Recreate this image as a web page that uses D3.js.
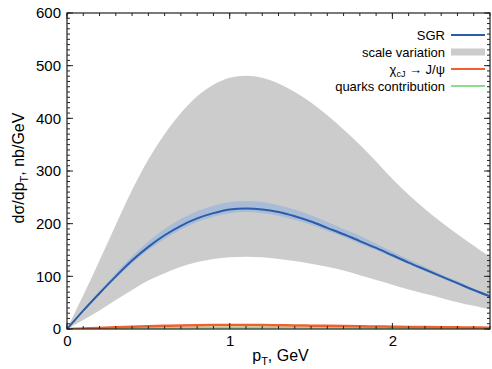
<!DOCTYPE html>
<html>
<head>
<meta charset="utf-8">
<script src="https://cdn.jsdelivr.net/npm/d3@7"></script>
<style>
  body { margin: 0; background: #fff; }
  text { font-family: "Liberation Sans", Arial, sans-serif; fill: #000; }
</style>
</head>
<body>
<div id="chart"></div>
<script>
// pT grid, GeV
const pT = [0, 0.1, 0.2, 0.3, 0.4, 0.5, 0.6, 0.7, 0.8, 0.9, 1.0, 1.1, 1.2, 1.3,
  1.4, 1.5, 1.6, 1.7, 1.8, 1.9, 2.0, 2.1, 2.2, 2.3, 2.4, 2.5, 2.6];

// SGR central curve and its narrow band
const sgr = [0, 35, 68, 100, 130, 156, 178, 196, 210, 220, 227, 229, 227, 222,
  214, 204, 192, 180, 167, 154, 140, 126, 113, 100, 87, 74, 62];
const sgrHi = [0, 37, 72, 106, 138, 166, 190, 209, 224, 234, 241, 243, 241, 235,
  227, 216, 203, 190, 177, 162, 147, 132, 118, 104, 91, 77, 64];
const sgrLo = [0, 34, 66, 96, 125, 150, 171, 189, 203, 213, 220, 222, 220, 215,
  207, 198, 186, 175, 162, 150, 136, 123, 110, 97, 84, 72, 60];

// scale variation band
const scaleHi = [0, 64, 130, 198, 264, 322, 370, 410, 442, 464, 477, 481, 477, 466,
  450, 430, 406, 379, 350, 318, 285, 255, 228, 203, 180, 158, 137];
const scaleLo = [0, 17, 35, 55, 74, 92, 106, 118, 127, 133, 136, 137, 136, 133,
  129, 124, 118, 111, 102, 93, 84, 75, 67, 59, 51, 44, 37];

// chi_cJ -> J/psi feed-down and quark contribution
const chi = [0, 1, 2, 3.2, 4.3, 5.2, 6, 6.6, 7.1, 7.4, 7.5, 7.5, 7.4, 7.1,
  6.8, 6.4, 6, 5.6, 5.2, 4.8, 4.4, 4, 3.7, 3.4, 3.1, 2.8, 2.6];
const quarks = [0, 0.5, 1, 1.5, 2, 2.4, 2.7, 3, 3.2, 3.3, 3.4, 3.4, 3.3, 3.2,
  3.1, 2.9, 2.7, 2.5, 2.3, 2.1, 1.9, 1.8, 1.6, 1.5, 1.3, 1.2, 1.1];

const xTicks = [0, 1, 2];
const yTicks = [0, 100, 200, 300, 400, 500, 600];

const legendItems = [
  { label: 'SGR', kind: 'line', color: '#2b5ca8' },
  { label: 'scale variation', kind: 'band', color: '#cccccc' },
  { label: 'chi', kind: 'line', color: '#f0602a' },
  { label: 'quarks contribution', kind: 'line', color: '#8ddc8d' }
];

const W = 492, H = 369;
const margin = { top: 13, right: 2, bottom: 40, left: 67 };
const width = W - margin.left - margin.right;
const height = H - margin.top - margin.bottom;

const svg = d3.select('#chart').append('svg')
  .attr('width', W).attr('height', H);

const g = svg.append('g')
  .attr('transform', `translate(${margin.left},${margin.top})`);

const x = d3.scaleLinear().domain([0, 2.6]).range([0, width]);
const y = d3.scaleLinear().domain([0, 600]).range([height, 0]);

g.append('clipPath').attr('id', 'clip')
  .append('rect').attr('width', width).attr('height', height);

const plot = g.append('g').attr('clip-path', 'url(#clip)');

const curve = d3.curveCatmullRom.alpha(0.5);

const band = (lo, hi) => d3.area()
  .x((d, i) => x(pT[i]))
  .y0((d, i) => y(lo[i]))
  .y1((d, i) => y(hi[i]))
  .curve(curve)(pT);

const line = vals => d3.line()
  .x((d, i) => x(pT[i]))
  .y((d, i) => y(vals[i]))
  .curve(curve)(pT);

const zeros = pT.map(() => 0);

// bands
plot.append('path').attr('d', band(scaleLo, scaleHi)).attr('fill', '#cccccc');
plot.append('path').attr('d', band(sgrLo, sgrHi)).attr('fill', '#a9bcd7');
plot.append('path').attr('d', band(zeros, quarks)).attr('fill', '#bfe8bf');

// lines
plot.append('path').attr('d', line(quarks)).attr('fill', 'none')
  .attr('stroke', '#8ddc8d').attr('stroke-width', 1.5);
plot.append('path').attr('d', line(chi)).attr('fill', 'none')
  .attr('stroke', '#f0602a').attr('stroke-width', 2.5);
plot.append('path').attr('d', line(sgr)).attr('fill', 'none')
  .attr('stroke', '#2b5ca8').attr('stroke-width', 2);

// inward ticks on all four sides
const tickColor = '#222';
const xMinor = d3.range(0, 2.61, 0.1);
const yMinor = d3.range(0, 601, 10);

function ticks(vals, len, isX) {
  vals.forEach(v => {
    if (isX) {
      const px = x(v);
      g.append('line').attr('x1', px).attr('x2', px).attr('y1', height).attr('y2', height - len)
        .attr('stroke', tickColor);
      g.append('line').attr('x1', px).attr('x2', px).attr('y1', 0).attr('y2', len)
        .attr('stroke', tickColor);
    } else {
      const py = y(v);
      g.append('line').attr('x1', 0).attr('x2', len).attr('y1', py).attr('y2', py)
        .attr('stroke', tickColor);
      g.append('line').attr('x1', width).attr('x2', width - len).attr('y1', py).attr('y2', py)
        .attr('stroke', tickColor);
    }
  });
}
ticks(xMinor, 3, true);
ticks(yMinor, 3, false);
ticks(xTicks, 6, true);
ticks(yTicks, 6, false);

// frame
g.append('rect').attr('width', width).attr('height', height)
  .attr('fill', 'none').attr('stroke', '#222').attr('stroke-width', 1.2);

// tick labels via axis generators (lines hidden)
const xAxis = g.append('g').attr('transform', `translate(0,${height})`)
  .call(d3.axisBottom(x).tickValues(xTicks).tickFormat(d3.format('d')).tickSize(0).tickPadding(3));
const yAxis = g.append('g')
  .call(d3.axisLeft(y).tickValues(yTicks).tickSize(0).tickPadding(6));
[xAxis, yAxis].forEach(a => {
  a.select('.domain').remove();
  a.selectAll('text').attr('font-size', 15).attr('font-family', '"Liberation Sans", Arial, sans-serif')
    .attr('fill', '#000');
});
xAxis.selectAll('text').attr('dy', '0.95em');

// axis titles
const xt = svg.append('text').attr('x', margin.left + width / 2 + 2).attr('y', 361)
  .attr('text-anchor', 'middle').attr('font-size', 16);
xt.append('tspan').text('p');
xt.append('tspan').text('T').attr('font-size', 11).attr('dy', 4);
xt.append('tspan').text(', GeV').attr('dy', -4);

const yt = svg.append('text')
  .attr('transform', `translate(24,${margin.top + height / 2 - 3}) rotate(-90)`)
  .attr('text-anchor', 'middle').attr('font-size', 16);
yt.append('tspan').text('dσ/dp');
yt.append('tspan').text('T').attr('font-size', 11).attr('dy', 4);
yt.append('tspan').text(', nb/GeV').attr('dy', -4);

// legend
const leg = svg.append('g');
legendItems.forEach((it, i) => {
  const ly = 35 + i * 17;
  const t = leg.append('text').attr('x', 445).attr('y', ly + 4.5)
    .attr('text-anchor', 'end').attr('font-size', 13);
  if (it.label === 'chi') {
    t.append('tspan').text('χ');
    t.append('tspan').text('cJ').attr('font-size', 9).attr('dy', 3);
    t.append('tspan').text(' → J/ψ').attr('dy', -3);
  } else {
    t.text(it.label);
  }
  if (it.kind === 'band') {
    leg.append('rect').attr('x', 451).attr('y', ly - 3.5).attr('width', 34).attr('height', 7)
      .attr('fill', it.color);
  } else {
    leg.append('line').attr('x1', 451).attr('x2', 485).attr('y1', ly).attr('y2', ly)
      .attr('stroke', it.color).attr('stroke-width', 2);
  }
});
</script>
</body>
</html>
